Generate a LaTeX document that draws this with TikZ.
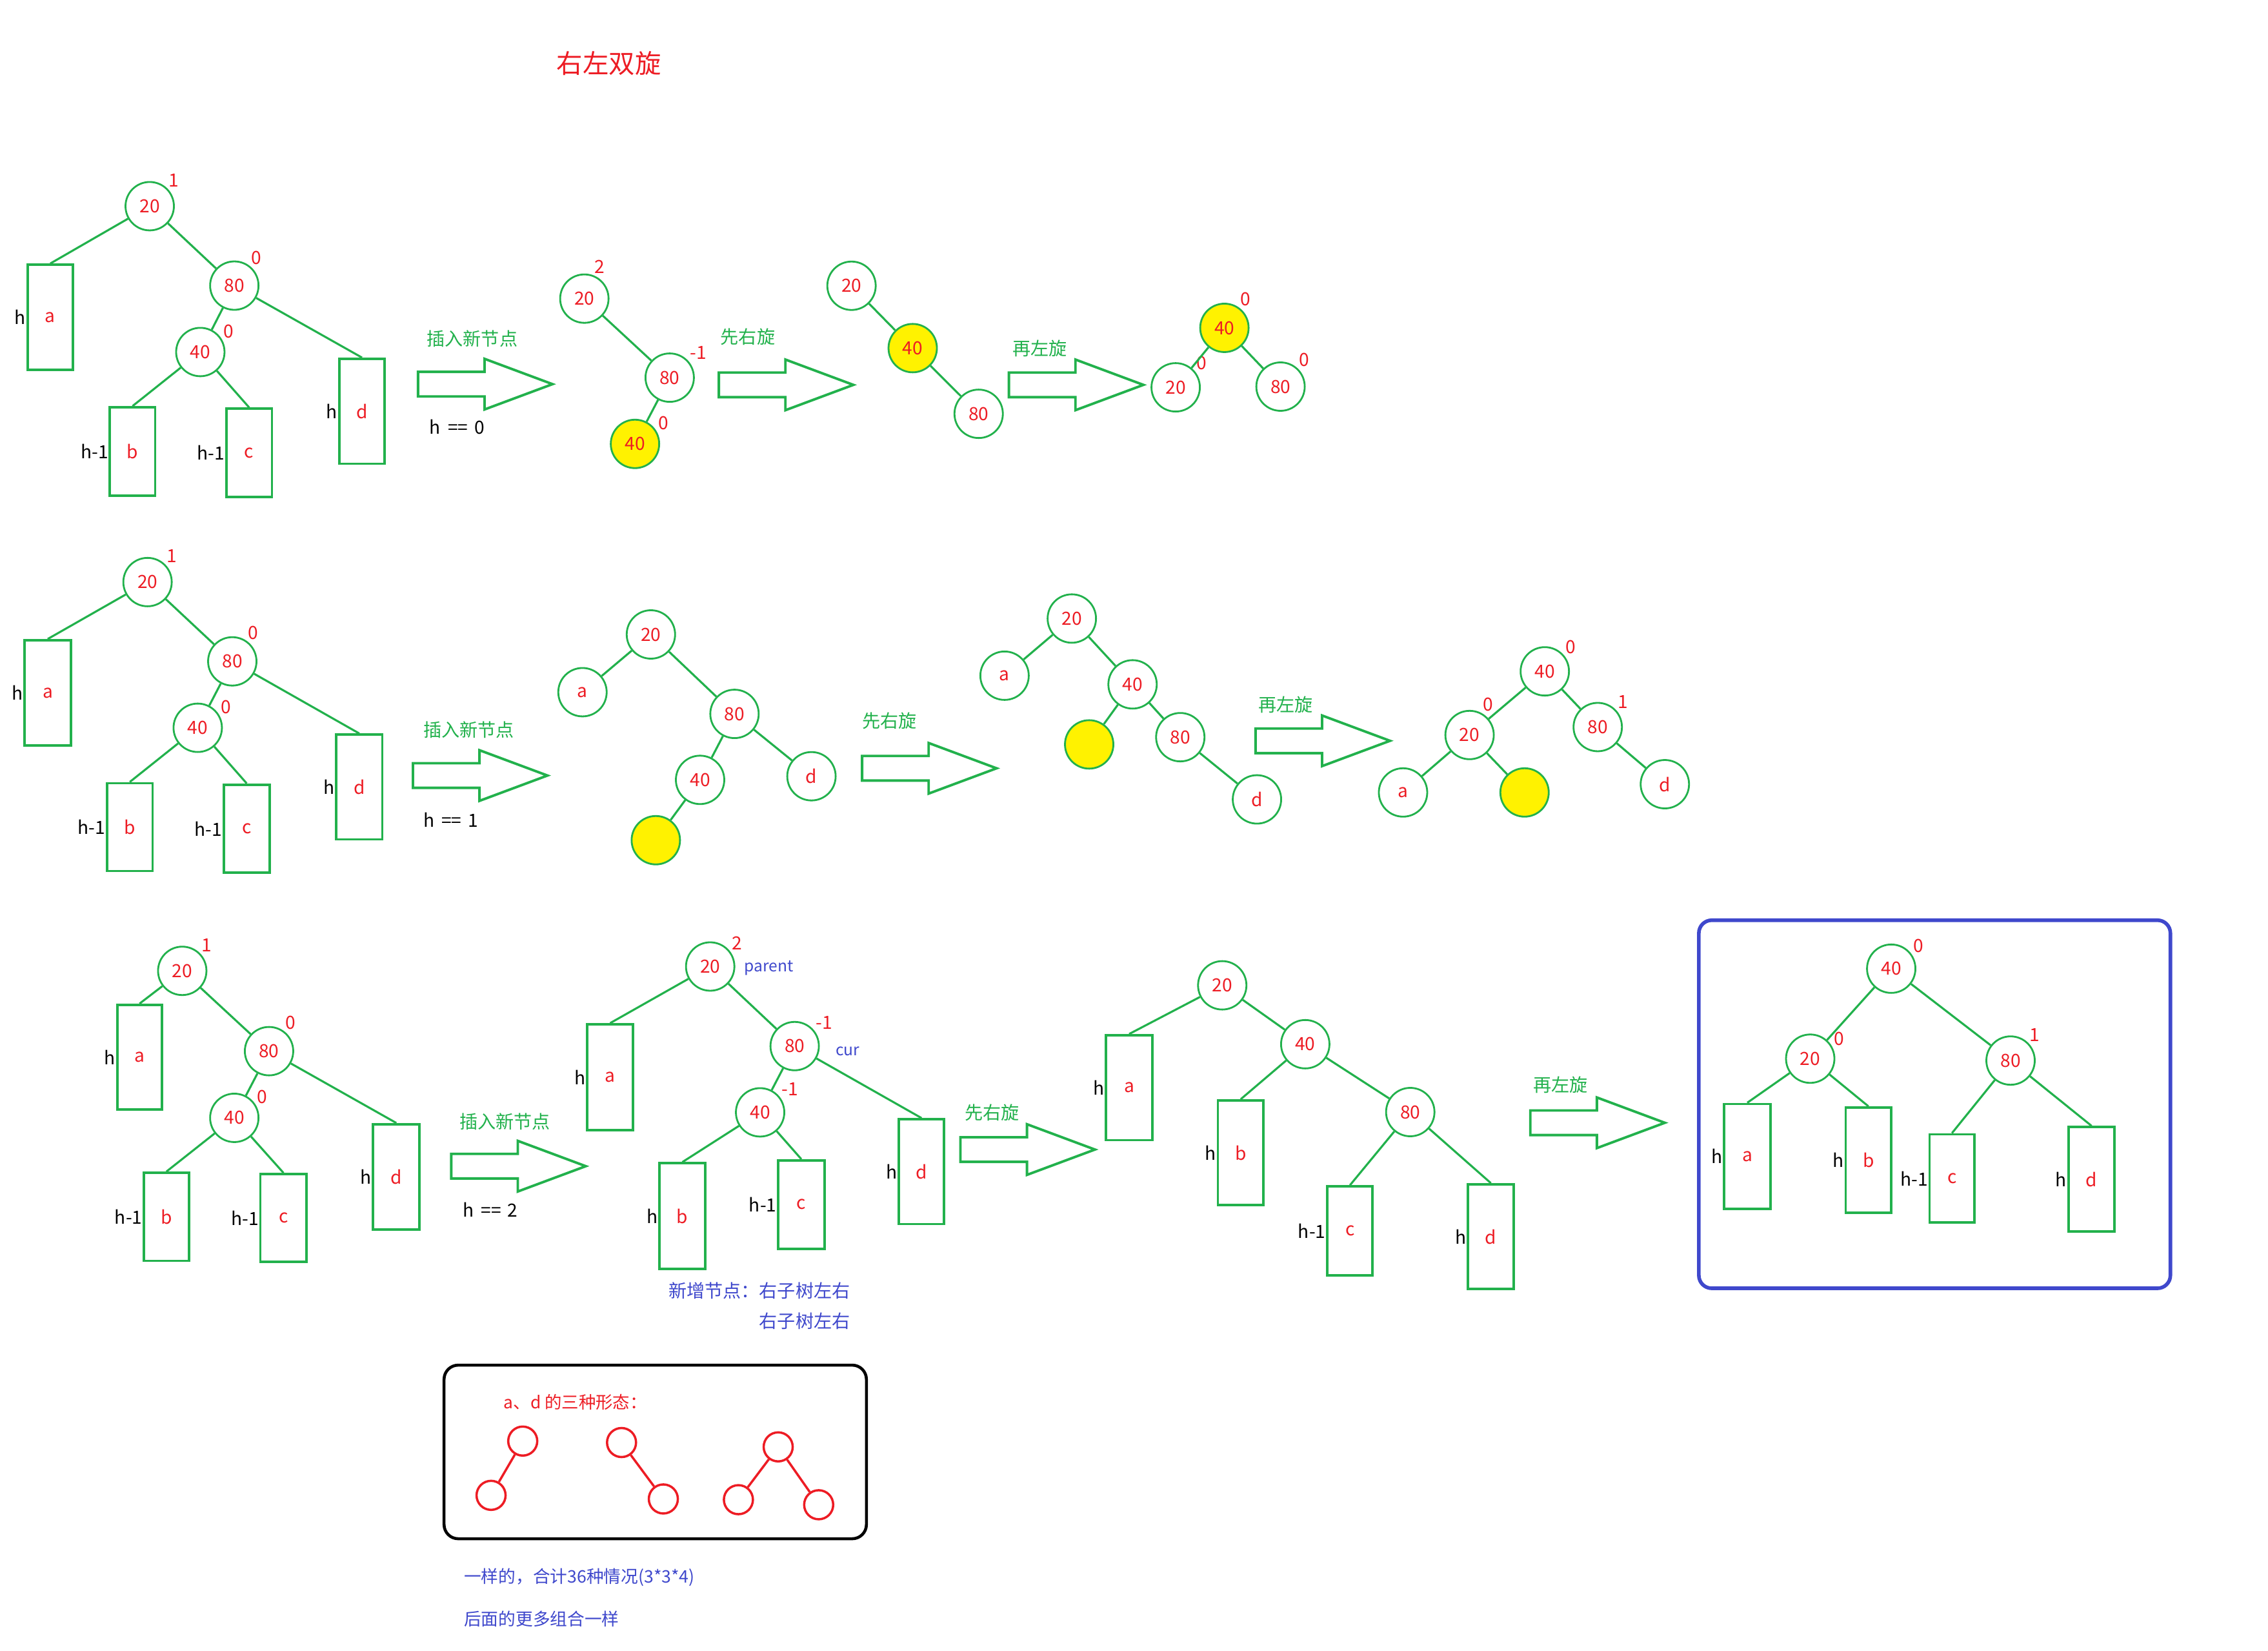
\documentclass[tikz,border=0pt]{standalone}
\usepackage{fontspec}
\setmainfont{Noto Sans CJK SC}
\definecolor{gc}{HTML}{22B14C}
\definecolor{rc}{HTML}{ED1C24}
\definecolor{bc}{HTML}{3F48CC}
\definecolor{yc}{HTML}{FFF200}
\def\uu{0.0224171cm}
\newcommand\fs[1]{\fontsize{#1}{#1}\selectfont}
\tikzset{
 cn/.style={circle,draw=gc,line width=0.8pt,minimum size=0.75cm,inner sep=0pt,text=rc,font=\fs{8}},
 yn/.style={cn,fill=yc},
 rbox/.style={rectangle,draw=gc,line width=1.1pt,inner sep=0pt,text=rc,font=\fs{8},label distance=0.13cm},
 hlab/.style={text=black,inner sep=0pt,font=\fs{8}},
 bal/.style={text=rc,inner sep=0.5pt,font=\fs{8}},
 lk/.style={draw=gc,line width=0.9pt},
 arrline/.style={draw=gc,line width=1.1pt},
 gtxt/.style={text=gc,font=\fs{8},inner sep=0pt},
 ktxt/.style={text=black,font=\fs{8},inner sep=0pt},
 btxt/.style={text=bc,font=\fs{8},inner sep=0pt},
 rcirc/.style={circle,draw=rc,line width=1pt,minimum size=0.45cm,inner sep=0pt},
 rlk/.style={draw=rc,line width=1pt},
 bigarr/.pic={\draw[arrline] (0,8.5) -- (46,8.5) -- (46,17.5) -- (93,0) -- (46,-17.5) -- (46,-8.5) -- (0,-8.5) -- cycle;}
}
\newcommand\rectnode[7]{\node[rbox,minimum width={(#4-#2)*\uu},minimum height={(#5-#3)*\uu},label={[hlab]left:#7}] (#1) at ({(#2+#4)/2},{(#3+#5)/2}) {#6};}
\newcommand\heq[1]{h\hspace{0.4em}==\hspace{0.35em}#1}
\begin{document}
\begin{tikzpicture}[x=0.0224171cm,y=-0.0224171cm]
\useasboundingbox (0,0) rectangle (1568,1141);
% title
\node[text=rc,font=\fs{11.5},inner sep=0pt] (title) at (421,44) {右左双旋};

% ===== Row 1 =====
\node[cn,label={[bal]45:1}] (A20) at (103.5,142.5) {20};
\node[cn,label={[bal]52:0}] (A80) at (162,197.4) {80};
\node[cn,label={[bal]30:0}] (A40) at (138.5,243.3) {40};
\rectnode{Aa}{19}{183}{50.5}{255.5}{a}{h}
\rectnode{Ab}{76}{281.5}{107.3}{342.5}{b}{h-1}
\rectnode{Ac}{156.5}{282.5}{188}{343.3}{c}{h-1}
\rectnode{Ad}{234.5}{248}{266}{320.5}{d}{h}
\draw[lk] (A20) -- (Aa.north);
\draw[lk] (A20) -- (A80);
\draw[lk] (A80) -- (A40);
\draw[lk] (A80) -- (Ad.north);
\draw[lk] (A40) -- (Ab.north);
\draw[lk] (A40) -- (Ac.north);
\pic at (289,265.5) {bigarr};
\node[gtxt] (l1a) at (326.5,234) {插入新节点};
\node[ktxt] (l1b) at (316,295) {\heq{0}};

\node[cn,label={[bal]70:2}] (B20) at (404,206.4) {20};
\node[cn,label={[bal]42:-1}] (B80) at (463,261) {80};
\node[yn,label={[bal]30:0}] (B40) at (439,306.8) {40};
\draw[lk] (B20) -- (B80);
\draw[lk] (B80) -- (B40);
\pic at (497,266) {bigarr};
\node[gtxt] (l1c) at (517,233) {先右旋};

\node[cn] (C20) at (588.7,197.5) {20};
\node[yn] (C40) at (631,240.6) {40};
\node[cn] (C80) at (676.6,286) {80};
\draw[lk] (C20) -- (C40);
\draw[lk] (C40) -- (C80);
\pic at (697.5,266) {bigarr};
\node[gtxt] (l1d) at (719,241) {再左旋};

\node[yn,label={[bal]55:0}] (D40) at (846.5,226.6) {40};
\node[cn,label={[bal]40:0}] (D20) at (812.8,267.7) {20};
\node[cn,label={[bal]47:0}] (D80) at (885.3,267.2) {80};
\draw[lk] (D40) -- (D20);
\draw[lk] (D40) -- (D80);

% ===== Row 2 =====
\node[cn,label={[bal]45:1}] (P20) at (102,402.3) {20};
\node[cn,label={[bal]55:0}] (P80) at (160.6,457.1) {80};
\node[cn,label={[bal]30:0}] (P40) at (136.7,503) {40};
\rectnode{Pa}{17}{442.5}{49}{515.2}{a}{h}
\rectnode{Pb}{74}{541.3}{105.5}{602}{b}{h-1}
\rectnode{Pc}{154.7}{542.3}{186.4}{603.1}{c}{h-1}
\rectnode{Pd}{232.5}{507.8}{264.3}{580.1}{d}{h}
\draw[lk] (P20) -- (Pa.north);
\draw[lk] (P20) -- (P80);
\draw[lk] (P80) -- (P40);
\draw[lk] (P80) -- (Pd.north);
\draw[lk] (P40) -- (Pb.north);
\draw[lk] (P40) -- (Pc.north);
\pic at (285.5,536) {bigarr};
\node[gtxt] (l2a) at (324,504.5) {插入新节点};
\node[ktxt] (l2b) at (311.6,566.7) {\heq{1}};

\node[cn] (E20) at (450,438.5) {20};
\node[cn] (Ea) at (402.7,478.4) {a};
\node[cn] (E80) at (507.8,493.4) {80};
\node[cn] (E40) at (484,539) {40};
\node[cn] (Ed) at (561,536.5) {d};
\node[yn] (Ey) at (453.4,580.7) {};
\draw[lk] (E20) -- (Ea);
\draw[lk] (E20) -- (E80);
\draw[lk] (E80) -- (E40);
\draw[lk] (E80) -- (Ed);
\draw[lk] (E40) -- (Ey);
\pic at (596,531) {bigarr};
\node[gtxt] (l2c) at (615,498) {先右旋};

\node[cn] (F20) at (741,427.5) {20};
\node[cn] (Fa) at (694.5,467) {a};
\node[cn] (F40) at (783,473) {40};
\node[yn] (Fy) at (753,514.5) {};
\node[cn] (F80) at (816,509.5) {80};
\node[cn] (Fd) at (869,552.5) {d};
\draw[lk] (F20) -- (Fa);
\draw[lk] (F20) -- (F40);
\draw[lk] (F40) -- (Fy);
\draw[lk] (F40) -- (F80);
\draw[lk] (F80) -- (Fd);
\pic at (868,512) {bigarr};
\node[gtxt] (l2d) at (889,487) {再左旋};

\node[cn,label={[bal]40:0}] (G40) at (1068,464) {40};
\node[cn,label={[bal]62:0}] (G20) at (1016,508) {20};
\node[cn,label={[bal]43:1}] (G80) at (1104.6,502.5) {80};
\node[cn] (Ga) at (970,547.7) {a};
\node[yn] (Gy) at (1054,547.7) {};
\node[cn] (Gd) at (1151,542) {d};
\draw[lk] (G40) -- (G20);
\draw[lk] (G40) -- (G80);
\draw[lk] (G20) -- (Ga);
\draw[lk] (G20) -- (Gy);
\draw[lk] (G80) -- (Gd);

% ===== Row 3 =====
\node[cn,label={[bal]45:1}] (H20) at (126,671) {20};
\node[cn,label={[bal]54:0}] (H80) at (186,726.5) {80};
\node[cn,label={[bal]31:0}] (H40) at (162,772.6) {40};
\rectnode{Ha}{81}{694.5}{112}{767}{a}{h}
\rectnode{Hb}{99.5}{810.6}{130.6}{871.4}{b}{h-1}
\rectnode{Hc}{180}{811.5}{212}{872}{c}{h-1}
\rectnode{Hd}{258}{777}{290}{849.6}{d}{h}
\draw[lk] (H20) -- (Ha.north);
\draw[lk] (H20) -- (H80);
\draw[lk] (H80) -- (H40);
\draw[lk] (H80) -- (Hd.north);
\draw[lk] (H40) -- (Hb.north);
\draw[lk] (H40) -- (Hc.north);
\pic at (312,806) {bigarr};
\node[gtxt] (l3a) at (349,775) {插入新节点};
\node[ktxt] (l3b) at (339,836) {\heq{2}};

\node[cn,label={[bal]37:2}] (I20) at (491,668) {20};
\node[cn,label={[bal]38:-1}] (I80) at (549.4,723) {80};
\node[cn,label={[bal]37:-1}] (I40) at (525.5,768.8) {40};
\rectnode{Ia}{406}{708}{437.6}{781}{a}{h}
\rectnode{Ib}{456}{804}{487.6}{877}{b}{h}
\rectnode{Ic}{538}{802}{570}{863}{c}{h-1}
\rectnode{Id}{621.5}{773.6}{652.7}{846}{d}{h}
\draw[lk] (I20) -- (Ia.north);
\draw[lk] (I20) -- (I80);
\draw[lk] (I80) -- (I40);
\draw[lk] (I80) -- (Id.north);
\draw[lk] (I40) -- (Ib.north);
\draw[lk] (I40) -- (Ic.north);
\node[btxt,font=\fs{7}] (par) at (531.5,669) {parent};
\node[btxt,font=\fs{7}] (cur) at (586,726.5) {cur};
\node[btxt,anchor=east] (nt1) at (588,892) {新增节点：右子树左右};
\node[btxt,anchor=east] (nt2) at (588,913) {右子树左右};
\pic at (664,794.5) {bigarr};
\node[gtxt] (l3c) at (686,769) {先右旋};

\node[cn] (J20) at (845,681) {20};
\node[cn] (J40) at (902.4,721.7) {40};
\node[cn] (J80) at (975,768.6) {80};
\rectnode{Ja}{764.6}{715.5}{796.7}{788}{a}{h}
\rectnode{Jb}{842}{760.6}{873.5}{833}{b}{h}
\rectnode{Jc}{917.6}{820}{949}{881.5}{c}{h-1}
\rectnode{Jd}{1015}{818.6}{1046.5}{891}{d}{h}
\draw[lk] (J20) -- (Ja.north);
\draw[lk] (J20) -- (J40);
\draw[lk] (J40) -- (Jb.north);
\draw[lk] (J40) -- (J80);
\draw[lk] (J80) -- (Jc.north);
\draw[lk] (J80) -- (Jd.north);
\pic at (1058,776) {bigarr};
\node[gtxt] (l3d) at (1079,750) {再左旋};

\draw[bc,line width=1.6pt,rounded corners=0.2cm] (1174.5,636) rectangle (1500.5,890.4);
\node[cn,label={[bal]35:0}] (K40) at (1307.5,669.5) {40};
\node[cn,label={[bal]27:0}] (K20) at (1251.5,731.7) {20};
\node[cn,label={[bal]45:1}] (K80) at (1390,733) {80};
\rectnode{Ka}{1192}{763}{1224}{835.5}{a}{h}
\rectnode{Kb}{1276}{765.5}{1307.5}{838}{b}{h}
\rectnode{Kc}{1334}{784}{1365}{845}{c}{h-1}
\rectnode{Kd}{1430}{779}{1462}{851}{d}{h}
\draw[lk] (K40) -- (K20);
\draw[lk] (K40) -- (K80);
\draw[lk] (K20) -- (Ka.north);
\draw[lk] (K20) -- (Kb.north);
\draw[lk] (K80) -- (Kc.north);
\draw[lk] (K80) -- (Kd.north);

% ===== Legend =====
\draw[black,line width=1.3pt,rounded corners=0.22cm] (307,943.5) rectangle (599,1063.5);
\node[text=rc,font=\fs{7.5},inner sep=0pt,anchor=west] (lgt) at (348,969) {a、d 的三种形态：};
\node[rcirc] (L1a) at (361.4,996) {};
\node[rcirc] (L1b) at (339.5,1033.5) {};
\node[rcirc] (L2a) at (429.7,997) {};
\node[rcirc] (L2b) at (458.6,1036) {};
\node[rcirc] (L3a) at (538,1000) {};
\node[rcirc] (L3b) at (510.5,1036.5) {};
\node[rcirc] (L3c) at (566,1040) {};
\draw[rlk] (L1a) -- (L1b);
\draw[rlk] (L2a) -- (L2b);
\draw[rlk] (L3a) -- (L3b);
\draw[rlk] (L3a) -- (L3c);
\node[btxt,font=\fs{7.6},anchor=west] (n1) at (320.5,1090) {一样的，合计36种情况(3*3*4)};
\node[btxt,font=\fs{7.6},anchor=west] (n2) at (320.5,1119) {后面的更多组合一样};
\end{tikzpicture}
\end{document}
